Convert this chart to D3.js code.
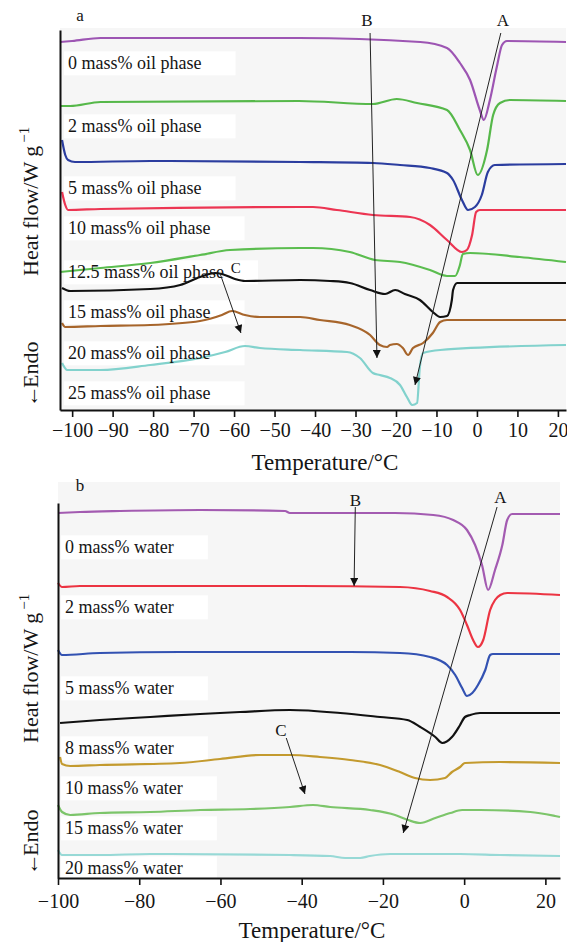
<!DOCTYPE html>
<html>
<head>
<meta charset="utf-8">
<script src="https://cdn.jsdelivr.net/npm/d3@7"></script>
<style>
  body { margin: 0; background: #fff; }
  svg text { font-family: "Liberation Serif", "Times New Roman", serif; fill: #151515; }
</style>
</head>
<body>
<svg id="chart" width="567" height="942"></svg>
<script>
// ---- panel a : oil phase content, [temperature °C, heat flow (offset, a.u.)]
const oilLabels = ["0 mass% oil phase", "2 mass% oil phase", "5 mass% oil phase", "10 mass% oil phase",
  "12.5 mass% oil phase", "15 mass% oil phase", "20 mass% oil phase", "25 mass% oil phase"];
const oilLabelAt = [34.7, 28.4, 22.2, 18.2, 13.8, 9.8, 5.7, 1.7];

const oil0 = [[-103,36.8],[-100,36.9],[-93,37.2],[-44,37.2],[-14,36.8],[-7.4,36.2],[-4.2,34.7],[-1.7,33.0],
  [0.7,30.0],[1.7,29.0],[3.2,31.0],[4.9,34.3],[6.2,36.5],[7.4,36.9],[22,36.8]];
const oil2 = [[-103,30.4],[-100.5,30.4],[-93,30.8],[-44,30.9],[-25.7,30.6],[-19.8,31.1],[-14.8,30.7],[-7.4,30.0],
  [-4.2,28.0],[-1.7,26.0],[0.2,23.5],[2.5,26.0],[4.0,29.5],[5.7,30.7],[8.1,31.0],[22,30.9]];
const oil5 = [[-102.5,27.0],[-101.7,25.5],[-101,25.0],[-99.3,24.8],[-80.7,24.9],[-43.7,24.8],[-25.7,24.7],
  [-19,24.5],[-11.6,24.2],[-7.4,23.7],[-5.9,23.0],[-3.7,21.0],[-2.2,20.0],[-0.5,20.3],[1.2,21.5],[2.7,23.8],
  [4.4,24.5],[22,24.6]];
const oil10 = [[-102.5,21.8],[-101.7,20.5],[-101,20.0],[-93,20.1],[-43.7,20.3],[-40.5,20.3],[-34.6,20.0],
  [-25.7,19.5],[-16.5,19.3],[-11.6,18.5],[-7.4,17.0],[-3.7,15.8],[-2.5,16.0],[-1.2,17.5],[-0.2,19.8],[0.7,20.0],[22,20.0]];
const oil12_5 = [[-103,13.8],[-93,14.2],[-80.7,14.7],[-68.4,15.5],[-61,16.0],[-43.7,16.2],[-40.5,16.2],[-31.4,15.8],
  [-25.2,15.0],[-19,14.8],[-11.6,14.0],[-7.4,13.4],[-5.4,13.4],[-4.2,14.5],[-3.5,15.6],[-1.7,15.7],[10.6,15.3],[22,14.8]];
const oil15 = [[-102.5,12.2],[-100.5,11.9],[-80.7,12.1],[-73.3,12.5],[-68.4,13.3],[-64.7,13.7],[-63,13.6],
  [-59.8,13.1],[-57.3,12.9],[-43.7,13.0],[-36.3,12.9],[-31.4,12.7],[-26.4,12.0],[-22.7,11.6],[-20.2,12.0],
  [-17.8,11.6],[-14.1,11.0],[-10.9,9.8],[-9.1,9.3],[-7.4,9.4],[-6.2,11.0],[-5.9,12.0],[-4.9,12.7],[22,12.7]];
const oil20 = [[-102.5,8.7],[-101.7,8.3],[-93,8.4],[-80.7,8.5],[-68.4,8.9],[-63,9.5],[-60.5,9.9],[-57.3,9.5],
  [-53.6,9.3],[-43.7,9.3],[-38.8,9.0],[-31.4,8.5],[-26.4,7.5],[-24,6.5],[-22.2,6.3],[-21.5,6.5],[-19.8,6.6],
  [-18.3,6.2],[-17,5.5],[-15.8,6.2],[-13.3,6.7],[-10.9,7.7],[-9.1,8.8],[-7.4,9.0],[22,9.0]];
const oil25 = [[-102.5,4.7],[-101.2,4.0],[-93,4.0],[-80.7,4.5],[-68.4,5.2],[-62.2,5.8],[-57.3,6.4],[-53.6,6.2],
  [-43.7,6.0],[-32.1,5.8],[-28.9,5.2],[-25.7,3.7],[-24,3.5],[-21.5,3.2],[-19,2.5],[-17.3,1.3],[-16,0.5],
  [-14.8,0.7],[-14.1,4.3],[-13.3,5.7],[-9.1,6.0],[22,6.5]];
const oilTicks = [-100,-90,-80,-70,-60,-50,-40,-30,-20,-10,0,10,20];
// annotations a: [label, labelT, labelHf, fromT, fromHf, toT, toHf]
const oilNotes = [["B",-27.2,39.0,-26.4,37.7,-24.7,5.2],["A",6.4,39.0,5.9,37.7,-15.3,2.5],["C",-59.6,14.2,-63.5,13.7,-58.3,7.7]];

// ---- panel b : water content
const waterLabels = ["0 mass% water", "2 mass% water", "5 mass% water", "8 mass% water",
  "10 mass% water", "15 mass% water", "20 mass% water"];
const waterLabelAt = [33.1, 27.1, 19.0, 13.0, 9.0, 5.0, 1.0];

const water0 = [[-100,36.5],[-94.6,36.6],[-84.7,36.7],[-65,36.8],[-44.1,36.7],[-42.9,36.5],[-33,36.5],[-17,36.5],
  [-7.6,36.3],[-2.7,35.8],[0.7,34.8],[2.7,33.3],[4.4,31.3],[5.9,28.8],[7.6,30.8],[9.4,33.3],[10.6,35.8],
  [11.8,36.4],[23.6,36.4]];
const water2 = [[-100,29.5],[-99,29.1],[-94.6,29.2],[-40.4,29.2],[-15.8,29.1],[-8.4,28.7],[-4.2,28.1],[-1,26.8],
  [0.7,25.3],[2.2,23.8],[3.4,23.1],[4.7,23.8],[6.4,26.8],[7.6,27.8],[8.9,28.3],[10.6,28.5],[23.6,28.3]];
const water5 = [[-100,22.8],[-99,22.3],[-89.7,22.5],[-70,22.6],[-28.1,22.6],[-15.8,22.5],[-8.4,22.1],[-4.2,21.3],
  [-2.2,20.3],[-0.5,19.0],[0.7,18.2],[2,18.5],[3.4,19.3],[5.2,20.8],[6.4,22.3],[7.1,22.4],[23.6,22.4]];
const water8 = [[-99.5,15.5],[-89.7,15.8],[-77.3,16.1],[-65,16.4],[-55.2,16.6],[-42.9,16.8],[-30.5,16.5],
  [-20.7,16.1],[-14,15.8],[-10.8,15.1],[-7.1,14.1],[-5.4,13.5],[-3,14.1],[-1,15.3],[0.2,16.1],[1.5,16.3],
  [3.9,16.5],[23.6,16.5]];
const water10 = [[-99.5,12.1],[-99,11.4],[-97,11.2],[-89.7,11.3],[-70,11.5],[-60.1,11.9],[-50.2,12.3],[-42.9,12.3],
  [-35.5,12.1],[-28.1,11.8],[-20.7,11.3],[-15.8,10.6],[-12.1,10.0],[-8.4,9.8],[-4.7,10.0],[-3,10.6],[-1,11.1],
  [0.2,11.5],[8.9,11.6],[23.6,11.5]];
const water15 = [[-100,7.3],[-99,6.6],[-97,6.3],[-89.7,6.5],[-77.3,6.6],[-65,6.8],[-52.7,6.9],[-42.9,7.1],
  [-37.2,7.3],[-33,7.1],[-23.2,6.8],[-17,6.3],[-13.8,5.8],[-10.8,5.5],[-7.1,6.0],[-3.4,6.5],[-0.5,6.8],
  [3.9,6.8],[16.3,6.6],[22.4,6.2],[23.6,6.1]];
const water20 = [[-100,2.8],[-99,2.3],[-89.7,2.3],[-77.3,2.4],[-42.9,2.3],[-33,2.2],[-29.3,2.0],[-25.6,2.0],
  [-23.2,2.2],[-18.2,2.4],[-1,2.4],[8.9,2.3],[23.6,2.2]];
const waterTicks = [-100,-80,-60,-40,-20,0,20];
const waterNotes = [["B",-26.8,37.8,-26.8,37.1,-27.1,29.2],["A",8.9,38.1,8.1,37.1,-15,4.5],["C",-45.1,14.8,-43.8,14.0,-39.2,8.4]];

const oilColors = ["#9d55b3","#56b84a","#2b3d9f","#ec3552","#5bbd4f","#111111","#a7652b","#82d2cd"];
const waterColors = ["#a35bb1","#ec3442","#3352b2","#111111","#c39a2e","#7cc56a","#97d9d6"];

const svg = d3.select('#chart');

svg.append('defs').append('marker')
  .attr('id', 'arr')
  .attr('viewBox', '0 0 10 10')
  .attr('refX', 10).attr('refY', 5)
  .attr('markerWidth', 9).attr('markerHeight', 8)
  .attr('markerUnits', 'userSpaceOnUse')
  .attr('orient', 'auto')
  .append('path').attr('d', 'M0,0 L10,5 L0,10 z').attr('fill', '#111');

function drawPanel(p) {
  const x = d3.scaleLinear().domain(p.xDomain).range(p.xRange);
  const y = d3.scaleLinear().domain(p.yDomain).range(p.yRange);
  const g = svg.append('g');

  g.append('rect')
    .attr('x', p.xRange[0]).attr('y', p.bgTop)
    .attr('width', p.xRange[1] - p.xRange[0])
    .attr('height', p.yRange[0] - p.bgTop)
    .attr('fill', '#f6f6f6');

  const boxes = g.append('g');
  const line = d3.line().x(d => x(d[0])).y(d => y(d[1])).curve(d3.curveMonotoneX);

  g.selectAll('path.curve')
    .data(p.series)
    .enter()
    .append('path')
    .attr('class', 'curve')
    .attr('d', line)
    .attr('fill', 'none')
    .attr('stroke', (d, i) => p.colors[i])
    .attr('stroke-width', 2.2)
    .attr('stroke-linejoin', 'round');

  const labels = g.selectAll('text.lab')
    .data(p.labels)
    .enter()
    .append('text')
    .attr('class', 'lab')
    .attr('x', x(p.labelT))
    .attr('y', (d, i) => y(p.labelAt[i]))
    .attr('dy', '0.35em')
    .attr('font-size', 18)
    .text(d => d);

  // white boxes behind the labels
  labels.each(function() {
    const b = this.getBBox();
    boxes.append('rect')
      .attr('x', b.x - 4).attr('y', b.y - 2)
      .attr('width', b.width + 38).attr('height', b.height + 4)
      .attr('fill', '#fff');
  });

  // annotation arrows
  p.notes.forEach(n => {
    g.append('line')
      .attr('x1', x(n[3])).attr('y1', y(n[4]))
      .attr('x2', x(n[5])).attr('y2', y(n[6]))
      .attr('stroke', '#222').attr('stroke-width', 1)
      .attr('marker-end', 'url(#arr)');
    g.append('text')
      .attr('x', x(n[1])).attr('y', y(n[2]))
      .attr('dy', '0.35em')
      .attr('text-anchor', 'middle')
      .attr('font-size', n[0] === 'C' && p.name === 'a' ? 15 : 17)
      .text(n[0]);
  });

  // axes
  const xAxis = g.append('g')
    .attr('transform', `translate(0,${p.yRange[0]})`)
    .call(d3.axisBottom(x).tickValues(p.ticks).tickSize(7).tickSizeOuter(0).tickPadding(p.pad));
  xAxis.attr('font-size', 20);
  xAxis.select('.domain').attr('stroke', '#111').attr('stroke-width', 2);
  xAxis.selectAll('.tick line').attr('stroke', '#111').attr('stroke-width', 1.6);

  const yAxis = g.append('g')
    .attr('transform', `translate(${p.xRange[0]},0)`)
    .call(d3.axisLeft(y).tickValues([]).tickSizeOuter(0));
  yAxis.select('.domain').attr('stroke', '#111').attr('stroke-width', 2);

  g.append('text')
    .attr('x', p.titleX).attr('y', p.titleY)
    .attr('text-anchor', 'middle')
    .attr('font-size', 23)
    .text('Temperature/°C');

  const yt = g.append('text')
    .attr('transform', `translate(38,${p.heatY}) rotate(-90)`)
    .attr('font-size', 22);
  yt.append('tspan').text('Heat flow/W g');
  yt.append('tspan').attr('dx', 3).attr('dy', '-0.6em').attr('font-size', 15).text('−1');

  const endo = g.append('text')
    .attr('transform', `translate(38,${p.endoY}) rotate(-90)`)
    .attr('font-size', 22);
  endo.append('tspan').text('←');
  endo.append('tspan').attr('dx', -3).text('Endo');

  g.append('text')
    .attr('x', 80).attr('y', p.letterY)
    .attr('dy', '0.35em')
    .attr('text-anchor', 'middle')
    .attr('font-size', 17)
    .text(p.name);
}

drawPanel({
  name: 'a',
  xDomain: [-103, 22], xRange: [60, 566],
  yDomain: [0, 38], yRange: [410, 30],
  bgTop: 28,
  series: [oil0, oil2, oil5, oil10, oil12_5, oil15, oil20, oil25],
  colors: oilColors,
  labels: oilLabels, labelAt: oilLabelAt, labelT: -101,
  notes: oilNotes,
  ticks: oilTicks, pad: 6,
  titleX: 325, titleY: 470,
  heatY: 276, endoY: 407,
  letterY: 15
});

drawPanel({
  name: 'b',
  xDomain: [-100, 23.6], xRange: [58, 560],
  yDomain: [0, 37.5], yRange: [878, 503],
  bgTop: 482,
  series: [water0, water2, water5, water8, water10, water15, water20],
  colors: waterColors,
  labels: waterLabels, labelAt: waterLabelAt, labelT: -98.3,
  notes: waterNotes,
  ticks: waterTicks, pad: 9,
  titleX: 312, titleY: 938,
  heatY: 743, endoY: 875,
  letterY: 485
});
</script>
</body>
</html>
